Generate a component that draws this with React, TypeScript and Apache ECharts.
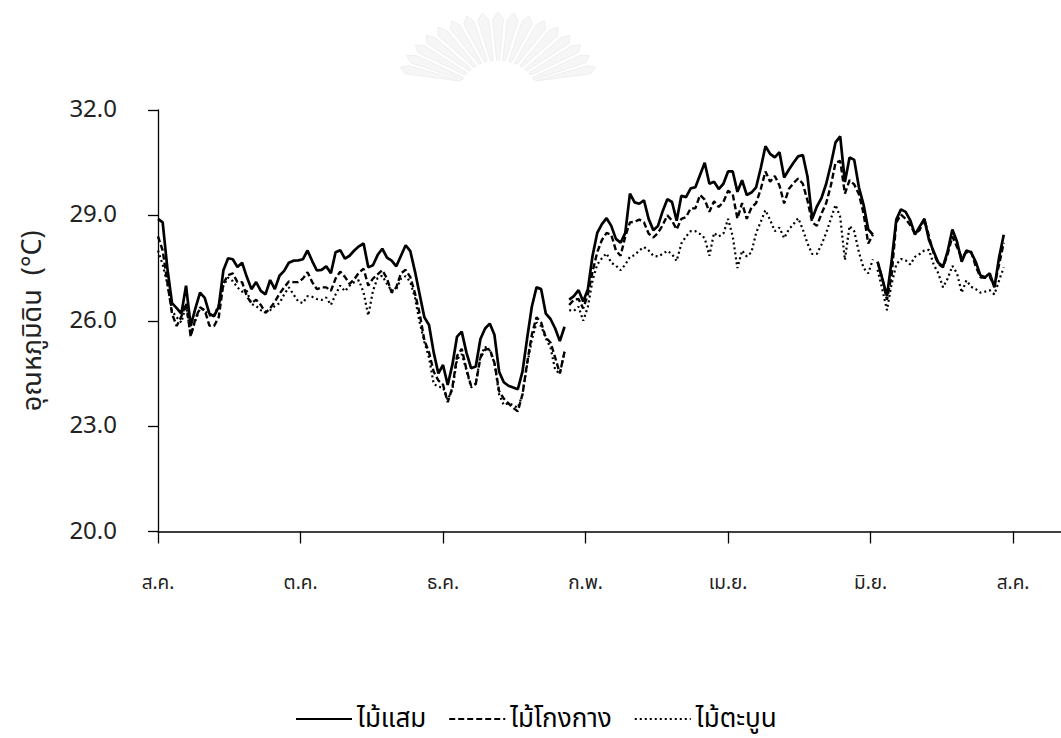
import { useEffect, useRef } from 'react';
import * as echarts from 'echarts';

// Daily soil temperature (°C) under three mangrove species, sampled every second day from 1 Aug.
const MONTH_LABELS = ['ส.ค.', 'ต.ค.', 'ธ.ค.', 'ก.พ.', 'เม.ย.', 'มิ.ย.', 'ส.ค.'];
const MONTH_TICK_DAYS = [0, 61, 122, 183, 244, 305, 366];
const DAY_STEP = 2;
// logger downtime: the line is broken before these sample indices
const GAP_BEFORE = [88, 154];

const SERIES_NAMES = ['ไม้แสม', 'ไม้โกงกาง', 'ไม้ตะบูน'];

const maeSaem = [
  28.9, 28.8, 27.5, 26.5, 26.36, 26.2, 27.0, 25.85, 26.35, 26.8,
  26.65, 26.2, 26.13, 26.4, 27.44, 27.78, 27.75, 27.53, 27.65, 27.25,
  26.9, 27.1, 26.85, 26.75, 27.16, 26.9, 27.28, 27.42, 27.65, 27.71,
  27.72, 27.75, 28.0, 27.7, 27.43, 27.45, 27.55, 27.35, 27.95, 28.01,
  27.77, 27.85, 28.0, 28.12, 28.2, 27.52, 27.58, 27.87, 28.05, 27.8,
  27.71, 27.55, 27.85, 28.15, 27.98, 27.4, 26.75, 26.1, 25.88, 25.1,
  24.5, 24.74, 24.17, 24.75, 25.55, 25.69, 25.1, 24.65, 24.7, 25.48,
  25.78, 25.92, 25.6, 24.55, 24.25, 24.15, 24.1, 24.05, 24.55, 25.5,
  26.4, 26.95, 26.9, 26.2, 26.05, 25.78, 25.42, 25.83,
  26.6, 26.7, 26.87, 26.55, 26.9, 27.85, 28.5, 28.75, 28.92, 28.7,
  28.33, 28.22, 28.5, 29.62, 29.37, 29.33, 29.43, 28.9, 28.58, 28.7,
  29.12, 29.46, 29.38, 28.85, 29.56, 29.52, 29.77, 29.8, 30.15, 30.5,
  29.9, 29.96, 29.75, 29.9, 30.25, 30.25, 29.67, 30.0, 29.58, 29.65,
  29.8, 30.35, 30.97, 30.75, 30.65, 30.8, 30.08, 30.3, 30.5, 30.68,
  30.72, 30.1, 28.9, 29.25, 29.5, 29.9, 30.45, 31.08, 31.25, 29.95,
  30.65, 30.58, 29.8, 29.3, 28.6, 28.45,
  27.68, 27.2, 26.7, 27.7, 28.88, 29.17, 29.1, 28.86, 28.45, 28.68,
  28.9, 28.3, 27.97, 27.65, 27.54, 27.98, 28.6, 28.25, 27.68, 28.0,
  27.95, 27.68, 27.29, 27.24, 27.35, 26.95, 27.8, 28.45,
];

const maiKongkang = [
  28.4, 28.0, 27.1, 26.2, 25.85, 26.12, 26.5, 25.55, 26.05, 26.38,
  26.3, 25.86, 25.85, 26.1, 27.07, 27.3, 27.35, 27.1, 27.1, 26.7,
  26.5, 26.6, 26.45, 26.22, 26.36, 26.54, 26.77, 26.95, 27.12, 27.1,
  27.1, 27.2, 27.38, 27.1, 26.9, 26.95, 26.95, 26.85, 27.2, 27.4,
  27.25, 27.05, 27.18, 27.37, 27.48, 27.0, 27.2, 27.32, 27.44, 27.2,
  26.8, 26.95, 27.35, 27.45, 27.24, 26.78, 26.2, 25.45, 25.1, 24.55,
  24.3, 24.18, 23.68, 24.1, 25.0, 25.2, 24.62, 24.15, 24.2, 24.95,
  25.18, 25.2, 24.8, 24.0, 23.78, 23.65, 23.52, 23.42, 23.9, 24.8,
  25.6, 26.1, 25.95, 25.52, 25.38, 24.95, 24.5, 25.12,
  26.45, 26.6, 26.62, 26.35, 26.75, 27.4, 27.95, 28.3, 28.5, 28.45,
  28.0, 27.85, 28.4, 28.8, 28.82, 28.88, 28.8, 28.48, 28.37, 28.5,
  28.72, 29.0, 28.85, 28.6, 28.9, 28.95, 29.2, 29.2, 29.58, 29.45,
  29.1, 29.4, 29.24, 29.38, 29.7, 29.6, 28.91, 29.35, 28.9, 29.22,
  29.35, 29.75, 30.25, 29.96, 30.12, 29.85, 29.34, 29.75, 29.92, 30.05,
  29.9, 29.42, 28.8, 28.7, 29.05, 29.35, 29.85, 30.5, 30.55, 29.62,
  30.0, 29.88, 29.6, 29.05, 28.2, 28.45,
  27.68, 27.2, 26.6, 27.3, 28.8, 29.02, 28.9, 28.72, 28.48, 28.58,
  28.9, 28.4, 27.92, 27.62, 27.52, 27.9, 28.4, 28.1, 27.8, 27.95,
  27.97, 27.55, 27.24, 27.22, 27.25, 27.0, 27.6, 28.22,
];

const maiTabun = [
  28.0, 27.6, 27.05, 26.28, 26.1, 25.95, 26.45, 25.6, 26.0, 26.35,
  26.3, 26.15, 26.15, 26.45, 27.0, 27.23, 27.13, 26.95, 26.83, 26.85,
  26.48, 26.42, 26.3, 26.26, 26.3, 26.42, 26.5, 26.75, 26.95, 26.75,
  26.55, 26.5, 26.7, 26.68, 26.62, 26.59, 26.66, 26.45, 26.75, 27.0,
  26.84, 27.0, 27.1, 27.15, 26.8, 26.15, 26.85, 27.22, 27.28, 27.05,
  26.85, 26.9, 27.2, 27.27, 27.1, 26.65, 25.95, 25.4, 24.95, 24.2,
  24.12, 24.1, 23.75, 24.05, 24.9, 25.05, 24.6, 24.1, 24.2, 25.0,
  25.26, 25.15, 24.8, 23.9, 23.6, 23.65, 23.6, 23.52, 23.9, 24.75,
  25.45, 25.95, 25.85, 25.5, 25.24, 24.6, 24.5, 25.12,
  26.3, 26.28, 26.4, 26.0, 26.4, 27.15, 27.6, 27.78, 27.92, 27.65,
  27.57, 27.44, 27.6, 27.82, 27.87, 28.0, 28.1, 28.0, 27.85, 27.83,
  27.9, 27.99, 27.9, 27.7, 28.2, 28.4, 28.55, 28.55, 28.47, 28.35,
  27.85, 28.5, 28.4, 28.48, 28.9, 28.4, 27.5, 28.0, 27.83, 27.95,
  28.5, 28.82, 29.15, 28.87, 28.55, 28.65, 28.35, 28.6, 28.75, 28.92,
  28.6, 28.2, 27.9, 27.9, 28.17, 28.5, 28.9, 29.3, 28.95, 27.73,
  28.7, 28.55, 27.95, 27.5, 27.35, 27.75,
  27.45, 26.9, 26.3, 27.05, 27.6, 27.76, 27.72, 27.6, 27.82, 27.9,
  28.0, 28.02, 27.6, 27.35, 26.95, 27.2, 27.56, 27.35, 26.8, 27.15,
  26.97, 26.9, 26.8, 26.83, 26.87, 26.75, 27.15, 27.52,
];

const FONT = '"Noto Sans Thai", "Leelawadee UI", Tahoma, "DejaVu Sans", "Noto Sans", sans-serif';
const TEXT_COLOR = '#222';

function toSeriesData(values: number[]) {
  const out: (number | string)[][] = [];
  values.forEach((v, i) => {
    if (GAP_BEFORE.includes(i)) out.push([i * DAY_STEP - 1, '-']);
    out.push([i * DAY_STEP, v]);
  });
  return out;
}

// faint university emblem behind the title area: a fan of slim blades
function emblemBlades() {
  const cx = 498;
  const cy = 96;
  const clipY = 81;
  const n = 17;
  const blades: any[] = [];
  for (let i = 0; i < n; i++) {
    const a = 20 + (140 * i) / (n - 1);
    const pt = (rx: number, ry: number, da: number) => {
      const ang = ((a + da) * Math.PI) / 180;
      return [cx + rx * Math.cos(ang), Math.min(clipY, cy - ry * Math.sin(ang))];
    };
    blades.push({
      type: 'polygon',
      silent: true,
      z: -10,
      shape: {
        points: [pt(40, 36, -2), pt(97, 77, -3.2), pt(104, 84, 0), pt(97, 77, 3.2), pt(40, 36, 2)],
      },
      style: { fill: '#f6f6f6', stroke: '#efefef', lineWidth: 1 },
    });
  }
  return blades;
}

export default function App() {
  const ref = useRef<HTMLDivElement>(null);

  useEffect(() => {
    if (!ref.current) return;
    const chart = echarts.init(ref.current, undefined, { renderer: 'svg' });

    const lineStyles = [
      { color: '#000', width: 2.7, type: 'solid' },
      { color: '#000', width: 2.4, type: [6, 3] },
      { color: '#000', width: 2.2, type: [2, 3] },
    ];
    const seriesValues = [maeSaem, maiKongkang, maiTabun];

    chart.setOption({
      animation: false,
      backgroundColor: '#fff',
      textStyle: { fontFamily: FONT },
      graphic: emblemBlades(),
      grid: { left: 158, right: 0, top: 110, bottom: 206.5 },
      xAxis: {
        type: 'value',
        min: 0,
        max: 386.5,
        axisLine: { show: true, onZero: false, lineStyle: { color: '#000', width: 1.5 } },
        axisTick: {
          show: true,
          length: 12,
          customValues: MONTH_TICK_DAYS,
          lineStyle: { color: '#000', width: 1.3 },
        },
        axisLabel: {
          customValues: MONTH_TICK_DAYS,
          formatter: (v: number) => MONTH_LABELS[MONTH_TICK_DAYS.indexOf(Math.round(v))] ?? '',
          margin: 42,
          fontSize: 19,
          color: TEXT_COLOR,
          fontFamily: FONT,
        },
        splitLine: { show: false },
      },
      yAxis: {
        type: 'value',
        min: 20,
        max: 32,
        interval: 3,
        name: 'อุณหภูมิดิน  (°C)',
        nameLocation: 'middle',
        nameRotate: 90,
        nameGap: 112,
        nameTextStyle: { fontSize: 27, color: TEXT_COLOR, fontFamily: FONT },
        axisLine: { show: true, lineStyle: { color: '#000', width: 1.3 } },
        axisTick: { show: true, length: 10, lineStyle: { color: '#000', width: 1.3 } },
        axisLabel: {
          formatter: (v: number) => v.toFixed(1),
          margin: 41,
          fontSize: 24,
          color: TEXT_COLOR,
          fontFamily: FONT,
        },
        splitLine: { show: false },
      },
      legend: {
        data: SERIES_NAMES,
        left: 290,
        top: 701,
        itemWidth: 56,
        itemHeight: 16,
        itemGap: 22,
        itemStyle: { opacity: 0 },
        textStyle: { fontSize: 26, color: '#000', fontFamily: FONT },
      },
      series: SERIES_NAMES.map((name, i) => ({
        name,
        type: 'line',
        data: toSeriesData(seriesValues[i]),
        symbol: 'none',
        connectNulls: false,
        lineStyle: lineStyles[i],
        itemStyle: { color: '#000' },
        z: 3 - i,
      })),
    });

    return () => chart.dispose();
  }, []);

  return (
    <div
      ref={ref}
      style={{ position: 'fixed', left: 0, top: 0, width: 1061, height: 738, background: '#fff' }}
    />
  );
}
